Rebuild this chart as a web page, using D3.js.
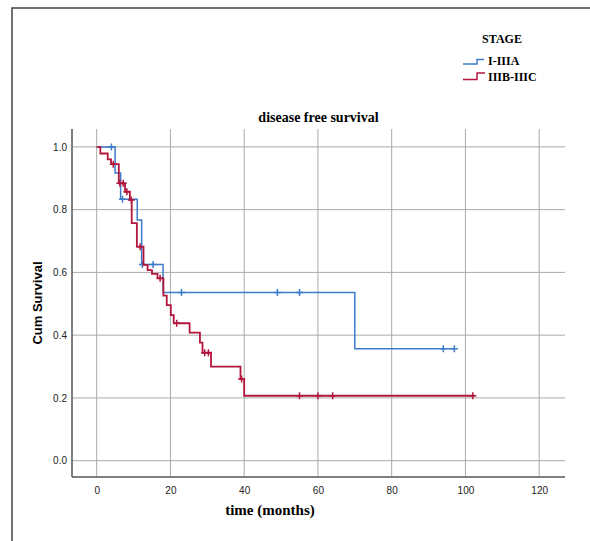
<!DOCTYPE html>
<html>
<head>
<meta charset="utf-8">
<script src="https://cdn.jsdelivr.net/npm/d3@7"></script>
<style>
  body { margin: 0; background: #fff; }
  svg { display: block; }
</style>
</head>
<body>
<div id="chart"></div>
<script>
// Kaplan-Meier step data (time in months, cumulative survival)
const groupNames = ["I-IIIA", "IIIB-IIIC"];

const blueTimes = [0, 5.0, 6.5, 11.0, 12.2, 18.0, 70.0, 97];
const blueSurv = [1.0, 0.917, 0.833, 0.767, 0.625, 0.536, 0.357, 0.357];
const blueCensored = [4, 7, 12.4, 15.3, 23, 49, 55, 94, 97];

const redTimes = [0, 1, 3, 3.9, 6, 7.7, 9, 9.5, 10.9, 12.7, 13.8, 15, 16.5, 18.1, 19, 20.1, 20.9, 25.2, 28, 28.7, 31, 39, 40, 102.5];
const redSurv = [1, 0.979, 0.96, 0.945, 0.884, 0.857, 0.831, 0.757, 0.682, 0.624, 0.607, 0.595, 0.581, 0.526, 0.496, 0.464, 0.438, 0.408, 0.376, 0.344, 0.30, 0.26, 0.207, 0.207];
const redCensored = [4.5, 6.3, 7.2, 8.2, 9.4, 11.8, 17.2, 21.7, 29.3, 30.3, 39.3, 55, 60, 64, 102];

const xTicks = [0, 20, 40, 60, 80, 100, 120];
const yTicks = [0.0, 0.2, 0.4, 0.6, 0.8, 1.0];

const width = 590, height = 541;
const plot = { left: 72, right: 565, top: 129, bottom: 477 };

const svg = d3.select("#chart").append("svg")
    .attr("width", width)
    .attr("height", height);

// outer frame (only left and top edges visible)
svg.append("path")
    .attr("d", `M12,${height} L12,8 L${width},8`)
    .attr("fill", "none")
    .attr("stroke", "#444")
    .attr("stroke-width", 1.5);

// Scales
const x = d3.scaleLinear().domain([-6.69, 127]).range([plot.left, plot.right]);
const y = d3.scaleLinear().domain([-0.052, 1.057]).range([plot.bottom, plot.top]);

// Grid
const gGrid = svg.append("g").attr("stroke", "#aaa").attr("stroke-width", 1);
gGrid.selectAll("line.vx")
    .data(xTicks)
    .join("line")
    .attr("x1", d => x(d)).attr("x2", d => x(d))
    .attr("y1", plot.top).attr("y2", plot.bottom);
gGrid.selectAll("line.hy")
    .data(yTicks)
    .join("line")
    .attr("class", "hy")
    .attr("x1", plot.left).attr("x2", plot.right)
    .attr("y1", d => y(d)).attr("y2", d => y(d));

// Axes
const gx = svg.append("g")
    .attr("transform", `translate(0,${plot.bottom})`)
    .call(d3.axisBottom(x).tickValues(xTicks).tickSize(0).tickPadding(13).tickFormat(d3.format("d")));
const gy = svg.append("g")
    .attr("transform", `translate(${plot.left},0)`)
    .call(d3.axisLeft(y).tickValues(yTicks).tickSize(0).tickPadding(5).tickFormat(d3.format(".1f")));

[gx, gy].forEach(g => {
    g.select(".domain").attr("stroke", "#555").attr("stroke-width", 1.5);
    g.selectAll("text")
        .attr("font-family", "Arial, 'Liberation Sans', sans-serif")
        .attr("font-size", 10)
        .attr("fill", "#222");
});
gy.select(".domain").attr("d", `M0,${plot.top}V${plot.bottom}`);
gx.select(".domain").attr("d", `M${plot.left},0H${plot.right}`);
gx.selectAll("text").attr("dy", "0.35em");

// Curves
const stepLine = d3.line()
    .x(d => x(d[0]))
    .y(d => y(d[1]))
    .curve(d3.curveStepAfter);

function survAt(times, surv, t) {
    let s = surv[0];
    for (let i = 0; i < times.length; i++) {
        if (times[i] <= t) s = surv[i];
    }
    return s;
}

const series = [
    { name: groupNames[0], times: blueTimes, surv: blueSurv, cens: blueCensored, color: "#3d7cc9", width: 1.5 },
    { name: groupNames[1], times: redTimes, surv: redSurv, cens: redCensored, color: "#b3163c", width: 1.8 }
];

series.forEach(s => {
    const pts = s.times.map((t, i) => [t, s.surv[i]]);
    svg.append("path")
        .datum(pts)
        .attr("d", stepLine)
        .attr("fill", "none")
        .attr("stroke", s.color)
        .attr("stroke-width", s.width);

    const c = svg.append("g").attr("stroke", s.color).attr("stroke-width", 1.5);
    c.selectAll("path")
        .data(s.cens)
        .join("path")
        .attr("d", t => {
            const cx = x(t), cy = y(survAt(s.times, s.surv, t));
            return `M${cx - 3.5},${cy}H${cx + 3.5}M${cx},${cy - 3.5}V${cy + 3.5}`;
        });
});

// Title and axis labels
svg.append("text")
    .attr("x", (plot.left + plot.right) / 2)
    .attr("y", 122)
    .attr("text-anchor", "middle")
    .attr("font-family", "'Times New Roman', 'Liberation Serif', serif")
    .attr("font-weight", "bold")
    .attr("font-size", 14)
    .text("disease free survival");

svg.append("text")
    .attr("x", 270)
    .attr("y", 515)
    .attr("text-anchor", "middle")
    .attr("font-family", "'Times New Roman', 'Liberation Serif', serif")
    .attr("font-weight", "bold")
    .attr("font-size", 15)
    .text("time (months)");

svg.append("text")
    .attr("transform", `translate(42,${(plot.top + plot.bottom) / 2}) rotate(-90)`)
    .attr("text-anchor", "middle")
    .attr("font-family", "Arial, 'Liberation Sans', sans-serif")
    .attr("font-weight", "bold")
    .attr("font-size", 13)
    .text("Cum Survival");

// Legend
const legend = svg.append("g")
    .attr("font-family", "'Times New Roman', 'Liberation Serif', serif")
    .attr("font-weight", "bold")
    .attr("font-size", 12);

legend.append("text")
    .attr("x", 502)
    .attr("y", 42.5)
    .attr("text-anchor", "middle")
    .text("STAGE");

series.forEach((s, i) => {
    const base = 65 + i * 15.5;
    legend.append("path")
        .attr("d", `M463,${base - 1}H477V${base - 5.5 - i * 2}H${484 + i}`)
        .attr("fill", "none")
        .attr("stroke", s.color)
        .attr("stroke-width", 1.5);
    legend.append("text")
        .attr("x", 488)
        .attr("y", base)
        .text(s.name);
});
</script>
</body>
</html>
